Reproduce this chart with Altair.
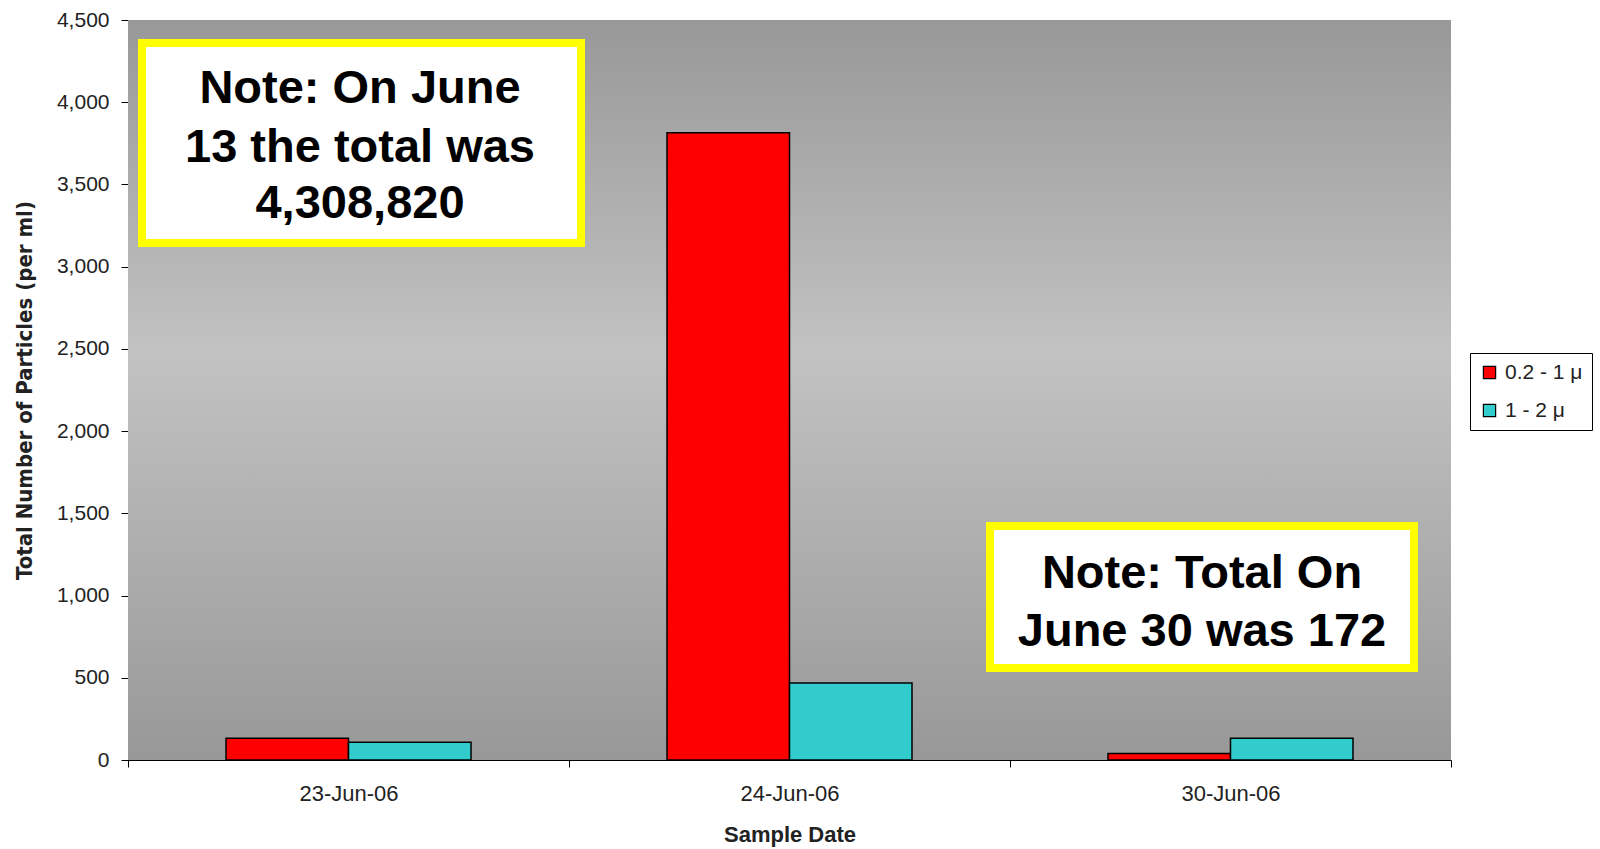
import altair as alt
import pandas as pd

# Particle counts per sample date and size class
dates = ["23-Jun-06", "24-Jun-06", "30-Jun-06"]
size_classes = ["0.2 - 1 \u03bc", "1 - 2 \u03bc"]
small_counts = [132, 3815, 40]
large_counts = [108, 468, 132]
bar_colors = ["#FF0000", "#33CCCC"]

note_june13 = ["Note: On June", "13 the total was", "4,308,820"]
note_june30 = ["Note: Total On", "June 30 was 172"]

rows = []
for d, a, b in zip(dates, small_counts, large_counts):
    rows.append({"date": d, "size": size_classes[0], "count": a})
    rows.append({"date": d, "size": size_classes[1], "count": b})
df = pd.DataFrame(rows)

W, H = 1323, 740
FONT = "Liberation Sans, Arial, sans-serif"

# Plot-area backdrop: grey vertical gradient, lightest near the middle
backdrop = alt.Chart(alt.Data(values=[{}])).mark_rect(
    color=alt.Gradient(
        gradient="linear", x1=0, y1=0, x2=0, y2=1,
        stops=[
            alt.GradientStop(color="#989898", offset=0),
            alt.GradientStop(color="#c2c2c2", offset=0.45),
            alt.GradientStop(color="#989898", offset=1),
        ],
    )
).encode(x=alt.value(0), x2=alt.value(W), y=alt.value(0), y2=alt.value(H))

bars = alt.Chart(df).mark_bar(stroke="black", strokeWidth=1.5).encode(
    x=alt.X(
        "date:N", sort=dates, title="Sample Date",
        scale=alt.Scale(paddingInner=0, paddingOuter=0),
        axis=alt.Axis(
            labelAngle=0, tickBand="extent", tickSize=7, tickColor="black",
            domainColor="black", labelFont=FONT, labelFontSize=22,
            labelColor="#222222", labelPadding=16,
            titleFont=FONT, titleFontSize=22, titleFontWeight="bold",
            titleColor="#222222", titlePadding=20,
        ),
    ),
    xOffset=alt.XOffset(
        "size:N", sort=size_classes,
        scale=alt.Scale(paddingInner=0, paddingOuter=0.8),
    ),
    y=alt.Y(
        "count:Q", title="Total Number of Particles (per ml)",
        scale=alt.Scale(domain=[0, 4500], nice=False),
        axis=alt.Axis(
            values=list(range(0, 4501, 500)), format=",d", grid=False,
            tickSize=7, tickColor="black", domainColor="black",
            labelFont=FONT, labelFontSize=21, labelColor="#222222",
            labelPadding=12,
            titleFont="Liberation Sans Narrow, DejaVu Sans Condensed, sans-serif",
            titleFontSize=22, titleFontWeight="bold", titleColor="#222222",
            titlePadding=20,
        ),
    ),
    color=alt.Color(
        "size:N", sort=size_classes,
        scale=alt.Scale(domain=size_classes, range=bar_colors),
        legend=alt.Legend(
            title=None, orient="none", legendX=1342, legendY=333,
            symbolType="square", symbolSize=150, symbolStrokeColor="black",
            symbolStrokeWidth=1.2, labelFont=FONT, labelFontSize=21,
            labelColor="#222222", labelOffset=5, rowPadding=16, padding=9,
            strokeColor="black", fillColor="white",
        ),
    ),
)

def note_box(x0, x1, y0, y1):
    return alt.Chart(alt.Data(values=[{}])).mark_rect(
        fill="white", stroke="#FFFF00", strokeWidth=8
    ).encode(x=alt.value(x0), x2=alt.value(x1), y=alt.value(y0), y2=alt.value(y1))

def note_lines(lines, cx, baselines):
    out = []
    for t, b in zip(lines, baselines):
        out.append(
            alt.Chart(alt.Data(values=[{"t": t}])).mark_text(
                font=FONT, fontSize=47, fontWeight="bold", color="black",
                align="center", baseline="alphabetic",
            ).encode(text="t:N", x=alt.value(cx), y=alt.value(b))
        )
    return out

layers = [
    backdrop,
    bars,
    note_box(14, 453, 23, 223),
    *note_lines(note_june13, 232, [83, 142, 198]),
    note_box(862, 1286, 506, 648),
    *note_lines(note_june30, 1074, [568, 626]),
]

chart = alt.layer(*layers).properties(
    width=W, height=H,
    autosize=alt.AutoSizeParams(type="none"),
    padding={"left": 128, "top": 20, "right": 149, "bottom": 89},
    background="white",
).configure_view(stroke=None)

chart.save("out.html", embed_options={"renderer": "svg", "actions": False})
